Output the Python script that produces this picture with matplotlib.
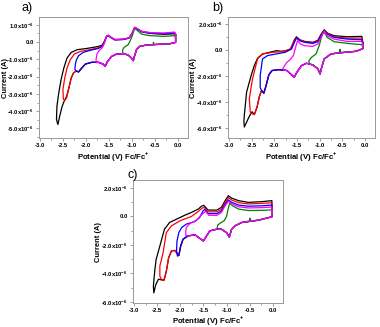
import numpy as np
import matplotlib
matplotlib.use("Agg")
import matplotlib.pyplot as plt
from matplotlib.ticker import FuncFormatter, MultipleLocator

plt.rcParams['font.family'] = ['Liberation Sans', 'DejaVu Sans']
plt.rcParams['mathtext.fontset'] = 'custom'
plt.rcParams['mathtext.rm'] = 'Liberation Sans:bold'
plt.rcParams['mathtext.bf'] = 'Liberation Sans:bold'

# cyclic voltammograms, (potential V vs Fc/Fc+, current in uA)
# panel a
a_black = [(-0.05, 0.40), (-0.05, -0.02), (-0.18, -0.10), (-0.40, -0.13), (-0.68, -0.17), (-0.83, -0.25),
           (-0.90, -0.44), (-0.95, -0.87), (-0.97, -1.08), (-1.01, -0.92), (-1.08, -0.75), (-1.19, -0.67),
           (-1.33, -0.69), (-1.44, -0.83), (-1.53, -1.12), (-1.58, -1.40), (-1.63, -1.27), (-1.73, -1.17),
           (-1.87, -1.17), (-2.01, -1.27), (-2.09, -1.50), (-2.16, -1.73), (-2.21, -1.67), (-2.27, -1.79),
           (-2.32, -2.08), (-2.37, -2.65), (-2.42, -3.15), (-2.47, -3.40), (-2.52, -3.75), (-2.57, -4.29),
           (-2.61, -4.77), (-2.64, -4.48), (-2.63, -3.71), (-2.59, -2.94), (-2.54, -2.17), (-2.48, -1.50),
           (-2.41, -0.92), (-2.32, -0.60), (-2.19, -0.44), (-1.98, -0.37), (-1.76, -0.27), (-1.65, -0.19),
           (-1.60, 0.04), (-1.55, 0.33), (-1.51, 0.37), (-1.45, 0.25), (-1.37, 0.13), (-1.19, 0.15),
           (-1.06, 0.23), (-0.99, 0.52), (-0.94, 0.83), (-0.88, 0.75), (-0.79, 0.60), (-0.61, 0.50),
           (-0.32, 0.45), (-0.07, 0.48), (-0.05, 0.40)]
a_red = [(-0.05, 0.45), (-0.05, -0.02), (-0.18, -0.10), (-0.40, -0.13), (-0.68, -0.17), (-0.83, -0.25),
         (-0.90, -0.44), (-0.95, -0.87), (-0.97, -1.08), (-1.01, -0.92), (-1.08, -0.75), (-1.19, -0.67),
         (-1.33, -0.69), (-1.44, -0.83), (-1.53, -1.12), (-1.58, -1.40), (-1.63, -1.27), (-1.73, -1.17),
         (-1.87, -1.17), (-2.01, -1.27), (-2.09, -1.50), (-2.16, -1.73), (-2.21, -1.67), (-2.27, -1.79),
         (-2.32, -2.08), (-2.37, -2.65), (-2.42, -3.23), (-2.46, -3.37), (-2.49, -3.30), (-2.50, -2.75),
         (-2.46, -2.08), (-2.41, -1.50), (-2.34, -1.02), (-2.25, -0.69), (-2.12, -0.54), (-1.91, -0.44),
         (-1.73, -0.33), (-1.63, -0.21), (-1.59, 0.04), (-1.55, 0.35), (-1.51, 0.39), (-1.45, 0.27),
         (-1.37, 0.15), (-1.19, 0.17), (-1.06, 0.25), (-0.99, 0.54), (-0.94, 0.86), (-0.88, 0.77),
         (-0.79, 0.62), (-0.61, 0.54), (-0.32, 0.50), (-0.07, 0.55), (-0.05, 0.45)]
a_blue = [(-0.05, 0.42), (-0.05, -0.02), (-0.18, -0.10), (-0.40, -0.13), (-0.68, -0.17), (-0.83, -0.25),
          (-0.90, -0.44), (-0.95, -0.87), (-0.97, -1.08), (-1.01, -0.92), (-1.08, -0.75), (-1.19, -0.67),
          (-1.33, -0.69), (-1.44, -0.83), (-1.53, -1.12), (-1.58, -1.40), (-1.63, -1.27), (-1.73, -1.17),
          (-1.87, -1.17), (-2.01, -1.27), (-2.09, -1.50), (-2.16, -1.73), (-2.21, -1.67), (-2.24, -1.58),
          (-2.23, -1.30), (-2.21, -1.05), (-2.16, -0.79), (-2.06, -0.60), (-1.91, -0.48), (-1.73, -0.37),
          (-1.63, -0.23), (-1.59, 0.02), (-1.55, 0.33), (-1.51, 0.37), (-1.45, 0.25), (-1.37, 0.13),
          (-1.19, 0.15), (-1.06, 0.23), (-0.99, 0.52), (-0.94, 0.84), (-0.88, 0.75), (-0.79, 0.60),
          (-0.61, 0.52), (-0.32, 0.48), (-0.07, 0.52), (-0.05, 0.42)]
a_magenta = [(-0.05, 0.45), (-0.05, -0.02), (-0.18, -0.10), (-0.40, -0.13), (-0.68, -0.17), (-0.83, -0.25),
             (-0.90, -0.44), (-0.95, -0.87), (-0.97, -1.08), (-1.01, -0.92), (-1.08, -0.75), (-1.19, -0.67),
             (-1.33, -0.69), (-1.44, -0.83), (-1.53, -1.12), (-1.58, -1.40), (-1.63, -1.27), (-1.73, -1.17),
             (-1.77, -1.20), (-1.78, -1.02), (-1.76, -0.69), (-1.71, -0.48), (-1.65, -0.35), (-1.60, -0.06),
             (-1.55, 0.33), (-1.51, 0.40), (-1.45, 0.27), (-1.37, 0.15), (-1.19, 0.17), (-1.06, 0.25),
             (-0.99, 0.54), (-0.94, 0.86), (-0.88, 0.78), (-0.79, 0.62), (-0.61, 0.55), (-0.32, 0.52),
             (-0.07, 0.58), (-0.05, 0.45)]
a_green = [(-0.05, 0.25), (-0.05, -0.02), (-0.18, -0.10), (-0.40, -0.13), (-0.52, -0.14), (-0.53, -0.02),
           (-0.54, -0.14), (-0.68, -0.17), (-0.83, -0.25), (-0.90, -0.44), (-0.95, -0.87), (-0.97, -1.08),
           (-1.01, -0.92), (-1.08, -0.75), (-1.15, -0.69), (-1.20, -0.63), (-1.20, -0.44), (-1.17, -0.31),
           (-1.08, -0.15), (-1.01, 0.23), (-0.94, 0.79), (-0.88, 0.67), (-0.79, 0.46), (-0.61, 0.37),
           (-0.32, 0.33), (-0.07, 0.37), (-0.05, 0.25)]

# panel b
b_black = [(-0.05, 0.60), (-0.05, 0.10), (-0.20, -0.10), (-0.45, -0.18), (-0.75, -0.30), (-0.90, -0.69),
           (-0.96, -1.40), (-0.99, -1.84), (-1.04, -1.45), (-1.15, -1.15), (-1.29, -1.02), (-1.40, -1.20),
           (-1.51, -1.76), (-1.56, -2.09), (-1.62, -1.91), (-1.72, -1.58), (-1.90, -1.51), (-2.05, -1.58),
           (-2.12, -1.91), (-2.18, -2.73), (-2.23, -3.32), (-2.28, -3.11), (-2.33, -3.60), (-2.38, -4.40),
           (-2.44, -4.97), (-2.49, -4.75), (-2.55, -5.10), (-2.61, -5.55), (-2.66, -5.92), (-2.67, -5.50),
           (-2.66, -5.00), (-2.61, -3.24), (-2.51, -1.96), (-2.44, -1.20), (-2.37, -0.64), (-2.26, -0.31),
           (-2.05, -0.13), (-1.95, -0.05), (-1.85, -0.10), (-1.72, -0.05), (-1.63, 0.08), (-1.56, 0.77),
           (-1.51, 1.02), (-1.44, 0.79), (-1.33, 0.66), (-1.15, 0.59), (-1.04, 0.74), (-0.97, 1.20),
           (-0.90, 1.56), (-0.83, 1.30), (-0.68, 1.10), (-0.39, 1.02), (-0.07, 1.05), (-0.05, 0.60)]
b_red = [(-0.05, 0.55), (-0.05, 0.10), (-0.20, -0.10), (-0.45, -0.18), (-0.75, -0.30), (-0.90, -0.69),
         (-0.96, -1.40), (-0.99, -1.84), (-1.04, -1.45), (-1.15, -1.15), (-1.29, -1.02), (-1.40, -1.20),
         (-1.51, -1.76), (-1.56, -2.09), (-1.62, -1.91), (-1.72, -1.58), (-1.90, -1.51), (-2.05, -1.58),
         (-2.12, -1.91), (-2.18, -2.73), (-2.23, -3.32), (-2.28, -3.11), (-2.33, -3.60), (-2.38, -4.40),
         (-2.44, -4.97), (-2.49, -4.90), (-2.53, -4.77), (-2.55, -3.75), (-2.48, -2.22), (-2.37, -0.69),
         (-2.26, -0.31), (-2.05, -0.18), (-1.83, -0.13), (-1.65, 0.08), (-1.56, 0.71), (-1.51, 0.97),
         (-1.44, 0.77), (-1.33, 0.64), (-1.15, 0.56), (-1.04, 0.71), (-0.97, 1.15), (-0.90, 1.53),
         (-0.83, 1.28), (-0.68, 1.02), (-0.39, 0.92), (-0.07, 0.92), (-0.05, 0.55)]
b_blue = [(-0.05, 0.50), (-0.05, 0.10), (-0.20, -0.10), (-0.45, -0.18), (-0.75, -0.30), (-0.90, -0.69),
          (-0.96, -1.40), (-0.99, -1.84), (-1.04, -1.45), (-1.15, -1.15), (-1.29, -1.02), (-1.40, -1.20),
          (-1.51, -1.76), (-1.56, -2.09), (-1.62, -1.91), (-1.72, -1.58), (-1.90, -1.51), (-2.05, -1.58),
          (-2.12, -1.91), (-2.18, -2.73), (-2.23, -3.32), (-2.28, -3.11), (-2.31, -2.90), (-2.31, -1.96),
          (-2.26, -0.69), (-2.15, -0.43), (-1.97, -0.31), (-1.76, -0.18), (-1.62, 0.08), (-1.54, 0.71),
          (-1.51, 0.92), (-1.44, 0.71), (-1.33, 0.59), (-1.15, 0.51), (-1.04, 0.64), (-0.97, 1.10),
          (-0.90, 1.48), (-0.83, 1.22), (-0.68, 0.97), (-0.39, 0.84), (-0.07, 0.79), (-0.05, 0.50)]
b_magenta = [(-0.05, 0.40), (-0.05, 0.10), (-0.20, -0.10), (-0.45, -0.18), (-0.75, -0.30), (-0.90, -0.69),
             (-0.96, -1.40), (-0.99, -1.84), (-1.04, -1.45), (-1.15, -1.15), (-1.29, -1.02), (-1.40, -1.20),
             (-1.51, -1.76), (-1.56, -2.09), (-1.62, -1.91), (-1.72, -1.58), (-1.79, -1.55), (-1.81, -1.40),
             (-1.77, -1.20), (-1.72, -0.94), (-1.65, -0.74), (-1.58, -0.43), (-1.53, 0.20), (-1.49, 0.71),
             (-1.42, 0.46), (-1.33, 0.33), (-1.15, 0.28), (-1.04, 0.46), (-0.97, 0.97), (-0.90, 1.45),
             (-0.83, 1.10), (-0.68, 0.84), (-0.39, 0.66), (-0.07, 0.66), (-0.05, 0.40)]
b_green = [(-0.05, 0.25), (-0.05, 0.10), (-0.20, -0.10), (-0.45, -0.18), (-0.54, -0.18), (-0.55, 0.05),
           (-0.56, -0.18), (-0.75, -0.30), (-0.90, -0.69), (-0.96, -1.40), (-0.99, -1.84), (-1.04, -1.45),
           (-1.15, -1.15), (-1.22, -1.07), (-1.24, -0.85), (-1.18, -0.56), (-1.08, -0.31), (-1.01, 0.33),
           (-0.96, 1.00), (-0.91, 1.43), (-0.83, 0.97), (-0.68, 0.64), (-0.39, 0.51), (-0.07, 0.41),
           (-0.05, 0.25)]

# panel c
c_black = [(-0.02, 0.60), (-0.02, -0.02), (-0.31, -0.26), (-0.67, -0.42), (-0.82, -0.66), (-0.89, -0.89),
           (-0.94, -1.44), (-1.00, -1.13), (-1.11, -0.89), (-1.21, -0.89), (-1.36, -1.01), (-1.43, -1.36),
           (-1.50, -1.72), (-1.58, -1.53), (-1.68, -1.29), (-1.83, -1.36), (-1.94, -1.60), (-1.99, -2.07),
           (-2.03, -2.73), (-2.06, -2.60), (-2.12, -2.38), (-2.19, -2.42), (-2.25, -2.89), (-2.30, -3.84),
           (-2.35, -4.45), (-2.40, -4.45), (-2.47, -4.40), (-2.53, -4.80), (-2.57, -5.36), (-2.58, -4.89),
           (-2.55, -3.80), (-2.52, -3.01), (-2.44, -2.07), (-2.34, -0.89), (-2.23, -0.42), (-2.05, -0.14),
           (-1.90, 0.09), (-1.76, 0.28), (-1.61, 0.52), (-1.54, 0.72), (-1.49, 0.78), (-1.40, 0.45),
           (-1.21, 0.45), (-1.11, 0.64), (-1.03, 1.11), (-0.96, 1.46), (-0.89, 1.29), (-0.74, 1.11),
           (-0.53, 0.99), (-0.24, 1.04), (-0.02, 1.11), (-0.02, 0.60)]
c_red = [(-0.02, 0.55), (-0.02, -0.02), (-0.31, -0.26), (-0.67, -0.42), (-0.82, -0.66), (-0.89, -0.89),
         (-0.94, -1.44), (-1.00, -1.13), (-1.11, -0.89), (-1.21, -0.89), (-1.36, -1.01), (-1.43, -1.36),
         (-1.50, -1.72), (-1.58, -1.53), (-1.68, -1.29), (-1.83, -1.36), (-1.94, -1.60), (-1.99, -2.07),
         (-2.03, -2.73), (-2.06, -2.60), (-2.12, -2.38), (-2.19, -2.42), (-2.25, -2.89), (-2.30, -3.84),
         (-2.35, -4.50), (-2.40, -4.45), (-2.44, -4.19), (-2.44, -3.48), (-2.37, -2.54), (-2.30, -1.13),
         (-2.19, -0.66), (-2.01, -0.31), (-1.76, 0.00), (-1.61, 0.35), (-1.53, 0.58), (-1.48, 0.64),
         (-1.40, 0.32), (-1.21, 0.33), (-1.11, 0.50), (-1.03, 0.98), (-0.96, 1.32), (-0.89, 1.16),
         (-0.74, 0.97), (-0.53, 0.88), (-0.24, 0.92), (-0.02, 0.96), (-0.02, 0.55)]
c_blue = [(-0.02, 0.45), (-0.02, -0.02), (-0.31, -0.26), (-0.67, -0.42), (-0.82, -0.66), (-0.89, -0.89),
          (-0.94, -1.44), (-1.00, -1.13), (-1.11, -0.89), (-1.21, -0.89), (-1.36, -1.01), (-1.43, -1.36),
          (-1.50, -1.72), (-1.58, -1.53), (-1.68, -1.29), (-1.83, -1.36), (-1.94, -1.60), (-1.99, -2.07),
          (-2.03, -2.73), (-2.06, -2.78), (-2.08, -2.42), (-2.07, -1.72), (-2.03, -1.13), (-1.97, -0.78),
          (-1.87, -0.54), (-1.68, -0.35), (-1.58, -0.07), (-1.51, 0.38), (-1.47, 0.50), (-1.40, 0.20),
          (-1.21, 0.20), (-1.11, 0.38), (-1.03, 0.85), (-0.96, 1.16), (-0.89, 1.00), (-0.74, 0.80),
          (-0.53, 0.72), (-0.24, 0.75), (-0.02, 0.80), (-0.02, 0.45)]
c_magenta = [(-0.02, 0.35), (-0.02, -0.02), (-0.31, -0.26), (-0.67, -0.42), (-0.82, -0.66), (-0.89, -0.89),
             (-0.94, -1.44), (-1.00, -1.13), (-1.11, -0.89), (-1.21, -0.89), (-1.36, -1.01), (-1.43, -1.36),
             (-1.50, -1.72), (-1.58, -1.53), (-1.68, -1.29), (-1.83, -1.36), (-1.88, -1.32), (-1.88, -1.00),
             (-1.87, -0.78), (-1.79, -0.49), (-1.65, -0.26), (-1.54, 0.12), (-1.45, 0.36), (-1.38, 0.08),
             (-1.21, 0.08), (-1.11, 0.28), (-1.03, 0.75), (-0.96, 1.06), (-0.89, 0.90), (-0.74, 0.68),
             (-0.53, 0.60), (-0.24, 0.62), (-0.02, 0.66), (-0.02, 0.35)]
c_green = [(-0.02, 0.20), (-0.02, -0.02), (-0.31, -0.26), (-0.48, -0.30), (-0.49, -0.12), (-0.50, -0.31),
           (-0.67, -0.42), (-0.82, -0.66), (-0.89, -0.89), (-0.94, -1.44), (-1.00, -1.13), (-1.11, -0.89),
           (-1.17, -0.89), (-1.20, -0.80), (-1.19, -0.60), (-1.13, -0.45), (-1.05, -0.30), (-1.00, 0.00),
           (-0.96, 0.60), (-0.93, 0.94), (-0.87, 0.75), (-0.74, 0.52), (-0.53, 0.42), (-0.24, 0.43),
           (-0.02, 0.46), (-0.02, 0.20)]

colors = ['#000000', '#ff0000', '#0000ff', '#008000', '#ff00ff']
panel_labels = ['a)', 'b)', 'c)']
a_yticks = [1, 0, -1, -2, -3, -4, -5]
bc_yticks = [2, 0, -2, -4, -6]


def ytick_fmt(val, pos):
    m = val * 1e6
    if abs(m) < 1e-9:
        return '0.0'
    return '%.1fx10$^{-6}$' % m


def draw(ax, curves, yticks, ylim, ylab_x, xlab_y):
    for pts, c in zip(curves, colors):
        v = np.array([p[0] for p in pts])
        i = np.array([p[1] for p in pts]) * 1e-6
        ax.plot(v, i, color=c, lw=0.9)
    ax.set_xlim(-3.02, 0.22)
    ax.set_ylim(ylim[0] * 1e-6, ylim[1] * 1e-6)
    ax.set_xticks([-3.0, -2.5, -2.0, -1.5, -1.0, -0.5, 0.0])
    ax.xaxis.set_minor_locator(MultipleLocator(0.25))
    ax.set_yticks([t * 1e-6 for t in yticks])
    step = abs(yticks[0] - yticks[1])
    ax.yaxis.set_minor_locator(MultipleLocator(step * 0.5e-6))
    ax.yaxis.set_major_formatter(FuncFormatter(ytick_fmt))
    ax.xaxis.set_major_formatter(FuncFormatter(lambda v, p: '%.1f' % v))
    ax.tick_params(which='both', direction='out', color='#777777', width=0.5, labelsize=4.2, pad=1.2)
    ax.tick_params(which='major', length=2.5)
    ax.tick_params(which='minor', length=1.5)
    for lab in ax.get_xticklabels() + ax.get_yticklabels():
        lab.set_fontweight('bold')
    for s in ax.spines.values():
        s.set_color('#999999')
        s.set_linewidth(0.7)
    ax.set_ylabel('Current (A)', fontsize=5.4, fontweight='bold', va='center')
    ax.yaxis.set_label_coords(ylab_x, 0.5)
    ax.set_xlabel('Potential (V) Fc/Fc$^{+}$', fontsize=5.6, fontweight='bold', va='center')
    ax.xaxis.set_label_coords(0.5, xlab_y)


fig = plt.figure(figsize=(3.8, 3.27), dpi=100)
W, H = 380.0, 327.0

ax_a = fig.add_axes([39 / W, 1 - 138 / H, 149 / W, 121 / H])
ax_b = fig.add_axes([228 / W, 1 - 138 / H, 147 / W, 121 / H])
ax_c = fig.add_axes([133 / W, 1 - 303 / H, 150 / W, 123 / H])

draw(ax_a, [a_black, a_red, a_blue, a_green, a_magenta], a_yticks, (-5.55, 1.45), -0.228, -0.15)
draw(ax_b, [b_black, b_red, b_blue, b_green, b_magenta], bc_yticks, (-6.77, 2.54), -0.232, -0.155)
draw(ax_c, [c_black, c_red, c_blue, c_green, c_magenta], bc_yticks, (-6.07, 2.56), -0.232, -0.145)

fig.text(22 / W, 1 - 8 / H, panel_labels[0], fontsize=9, va='center')
fig.text(212 / W, 1 - 8 / H, panel_labels[1], fontsize=9, va='center')
fig.text(127 / W, 1 - 175 / H, panel_labels[2], fontsize=9, va='center')

fig.savefig('out.png', dpi=100)
